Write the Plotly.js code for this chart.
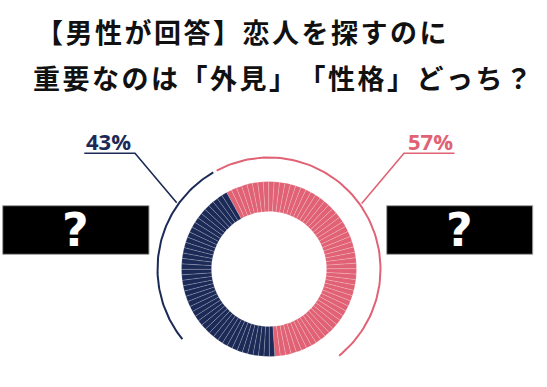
<!DOCTYPE html>
<html>
<head>
<meta charset="utf-8">
<script src="https://cdn.plot.ly/plotly-3.0.1.min.js"></script>
<style>
  html, body { margin: 0; padding: 0; background: #fff; }
  #chart { width: 547px; height: 387px; }
  text, tspan { font-kerning: none; text-spacing-trim: space-all; font-feature-settings: "kern" 0, "palt" 0, "halt" 0, "chws" 0; }
</style>
</head>
<body>
<div id="chart"></div>
<script>
// ---- data ----
const titleLines = ['【男性が回答】恋人を探すのに', '重要なのは「外見」「性格」どっち？'];
const categories = ['右', '左'];          // drawn order: pink first (clockwise), then navy
const percents = [57, 43];
const pctLabels = ['57%', '43%'];
const boxLabels = ['?', '?'];
const colors = ['#e06274', '#1c2a57'];

// ---- geometry (pixel space) ----
const W = 547, H = 387;
const cx = 269, cy = 269, rOuter = 87.5, rInner = 57.5, rArc = 111.5;

// expand each share into 1% unit slices so the white separators appear
const sliceVals = [], sliceColors = [], sliceLabels = [];
percents.forEach((p, k) => {
  for (let i = 0; i < p; i++) {
    sliceVals.push(1);
    sliceColors.push(colors[k]);
    sliceLabels.push(categories[k] + '-' + i);
  }
});

const pie = {
  type: 'pie',
  values: sliceVals,
  labels: sliceLabels,
  sort: false,
  direction: 'clockwise',
  rotation: -29,
  hole: rInner / rOuter,
  textinfo: 'none',
  hoverinfo: 'skip',
  showlegend: false,
  marker: { colors: sliceColors, line: { color: 'rgba(255,255,255,0.3)', width: 0.6 } },
  domain: { x: [(cx - rOuter) / W, (cx + rOuter) / W], y: [(H - cy - rOuter) / H, (H - cy + rOuter) / H] }
};

function arc(a0, a1, r) {
  const xs = [], ys = [];
  const n = 80;
  for (let i = 0; i <= n; i++) {
    const a = (a0 + (a1 - a0) * i / n) * Math.PI / 180;
    xs.push(cx + r * Math.sin(a));
    ys.push(cy - r * Math.cos(a));
  }
  return { xs, ys };
}
// decorative outer arcs (degrees clockwise from 12 o'clock)
const arcPink = arc(-28, 141, rArc);
const arcNavy = arc(-30, -129, rArc);

const traces = [
  pie,
  { type: 'scatter', mode: 'lines', x: arcPink.xs, y: arcPink.ys, line: { color: colors[0], width: 2 }, hoverinfo: 'skip', showlegend: false },
  { type: 'scatter', mode: 'lines', x: arcNavy.xs, y: arcNavy.ys, line: { color: colors[1], width: 2 }, hoverinfo: 'skip', showlegend: false },
  // leader lines
  { type: 'scatter', mode: 'lines', x: [361.7, 404, 454.5], y: [203.5, 153.3, 153.3], line: { color: colors[0], width: 1.6 }, hoverinfo: 'skip', showlegend: false },
  { type: 'scatter', mode: 'lines', x: [176.7, 135, 84.3], y: [202.7, 153.3, 153.3], line: { color: colors[1], width: 1.6 }, hoverinfo: 'skip', showlegend: false }
];

const numFont = { family: 'Open Sans, sans-serif', size: 22, weight: 700 };
const titleFont = { family: 'Noto Sans CJK JP, sans-serif', size: 27, weight: 700, color: '#111' };
const spaced = s => '<span style="letter-spacing:2.5px">' + s + '</span>';

const layout = {
  width: W, height: H,
  margin: { l: 0, r: 0, t: 0, b: 0 },
  paper_bgcolor: '#fff', plot_bgcolor: '#fff',
  xaxis: { range: [0, W], visible: false, fixedrange: true },
  yaxis: { range: [H, 0], visible: false, fixedrange: true },
  shapes: [
    { type: 'rect', xref: 'x', yref: 'y', x0: 2.7, x1: 149, y0: 205.7, y1: 254.3, fillcolor: '#000', line: { color: '#a0a0a0', width: 1 } },
    { type: 'rect', xref: 'x', yref: 'y', x0: 386.7, x1: 532.7, y0: 205.7, y1: 254.3, fillcolor: '#000', line: { color: '#a0a0a0', width: 1 } }
  ],
  annotations: [
    { xref: 'x', yref: 'y', x: 34, y: 31, xanchor: 'left', yanchor: 'middle', text: spaced(titleLines[0]), showarrow: false, font: titleFont },
    { xref: 'x', yref: 'y', x: 31, y: 77, xanchor: 'left', yanchor: 'middle', text: spaced(titleLines[1]), showarrow: false, font: titleFont },
    { xref: 'x', yref: 'y', x: 454.5, y: 140.5, xanchor: 'right', yanchor: 'middle', text: pctLabels[0], showarrow: false, font: Object.assign({ color: colors[0] }, numFont) },
    { xref: 'x', yref: 'y', x: 84.3, y: 140.5, xanchor: 'left', yanchor: 'middle', text: pctLabels[1], showarrow: false, font: Object.assign({ color: colors[1] }, numFont) },
    { xref: 'x', yref: 'y', x: 459.7, y: 230, xanchor: 'center', yanchor: 'middle', text: boxLabels[0], showarrow: false, font: { family: 'DejaVu Sans, sans-serif', size: 46, weight: 700, color: '#fff' } },
    { xref: 'x', yref: 'y', x: 75.8, y: 230, xanchor: 'center', yanchor: 'middle', text: boxLabels[1], showarrow: false, font: { family: 'DejaVu Sans, sans-serif', size: 46, weight: 700, color: '#fff' } }
  ]
};

Plotly.newPlot('chart', traces, layout, { staticPlot: true, displayModeBar: false });
</script>
</body>
</html>
